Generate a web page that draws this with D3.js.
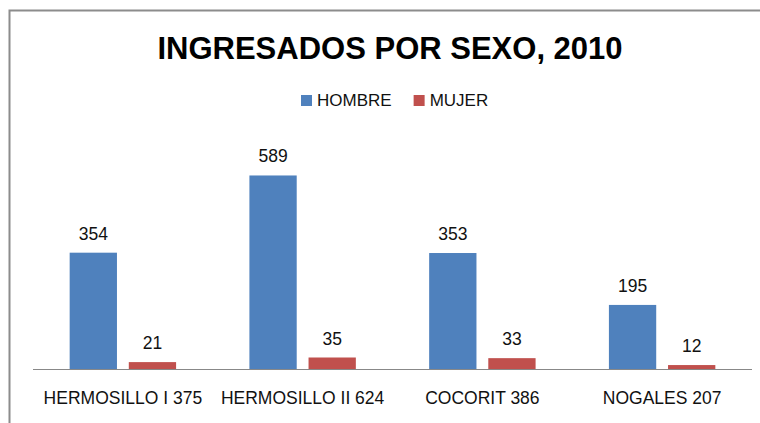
<!DOCTYPE html>
<html lang="es">
  <head>
    <meta charset="utf-8">
    <title>Ingresados por sexo, 2010</title>
    <script src="https://d3js.org/d3.v7.min.js"></script>
    <style media="screen" type="text/css">
      body { margin: 0; background: #fff; }
      text { font-family: "Liberation Sans", Arial, sans-serif; fill: #111; }
    </style>
  </head>
  <body>
    <div id="main"></div>
    <script type="text/javascript">
      // Data
      const categories = ['HERMOSILLO I 375', 'HERMOSILLO II 624', 'COCORIT 386', 'NOGALES 207'];
      const series = ['HOMBRE', 'MUJER'];
      const hombre = [354, 589, 353, 195];
      const mujer = [21, 35, 33, 12];
      const colors = ['#4F81BD', '#C0504D'];
      const title = 'INGRESADOS POR SEXO, 2010';

      const width = 760, height = 423;
      const plot = { left: 33, right: 752, top: 139, bottom: 369 };

      const svg = d3.select('#main')
        .append('svg')
        .attr('width', width)
        .attr('height', height);

      // chart frame (only top and left edges show)
      svg.append('path')
        .attr('d', `M9.5,${height}V10.5H${width}`)
        .attr('fill', 'none')
        .attr('stroke', '#8c8c8c')
        .attr('stroke-width', 2);

      const rows = categories.map((c, i) => ({ cat: c, values: [hombre[i], mujer[i]] }));

      const x0 = d3.scaleBand()
        .domain(categories)
        .range([plot.left, plot.right]);

      const x1 = d3.scaleBand()
        .domain(series)
        .range([0, x0.bandwidth()])
        .paddingInner(0.2)
        .paddingOuter(0.62);

      const y = d3.scaleLinear()
        .domain([0, 700])
        .range([plot.bottom, plot.top]);

      // title
      svg.append('text')
        .attr('x', 390)
        .attr('y', 59)
        .attr('text-anchor', 'middle')
        .style('font-size', '31px')
        .style('font-weight', 'bold')
        .style('fill', '#000')
        .text(title);

      // bars
      const groups = svg.selectAll('.group')
        .data(rows)
        .enter()
          .append('g')
          .attr('class', 'group')
          .attr('transform', d => `translate(${x0(d.cat)},0)`);

      const bars = groups.selectAll('.bar')
        .data(d => d.values.map((v, i) => ({ key: series[i], value: v, color: colors[i] })))
        .enter();

      bars.append('rect')
        .attr('class', 'bar')
        .attr('x', d => x1(d.key))
        .attr('y', d => y(d.value))
        .attr('width', x1.bandwidth())
        .attr('height', d => y(0) - y(d.value))
        .attr('fill', d => d.color);

      bars.append('text')
        .attr('x', d => x1(d.key) + x1.bandwidth() / 2)
        .attr('y', d => y(d.value) - 13)
        .attr('text-anchor', 'middle')
        .style('font-size', '17.5px')
        .text(d => d.value);

      // x axis
      const xAxis = svg.append('g')
        .attr('transform', `translate(0,${plot.bottom})`)
        .call(d3.axisBottom(x0).tickSize(0).tickPadding(23));
      xAxis.select('.domain').attr('stroke', '#888').attr('d', `M${plot.left},0.5H${plot.right}`);
      xAxis.selectAll('text')
        .style('font-size', '17.5px')
        .style('font-family', '"Liberation Sans", Arial, sans-serif')
        .attr('fill', '#111');

      // legend
      const legend = svg.append('g').attr('transform', 'translate(301,95)');
      let lx = 0;
      series.forEach((s, i) => {
        const item = legend.append('g').attr('transform', `translate(${lx},0)`);
        item.append('rect')
          .attr('width', 11)
          .attr('height', 11)
          .attr('fill', colors[i]);
        const t = item.append('text')
          .attr('x', 16)
          .attr('y', 11)
          .style('font-size', '17px')
          .text(s);
        lx += 16 + t.node().getComputedTextLength() + 22;
      });
    </script>
  </body>
</html>
